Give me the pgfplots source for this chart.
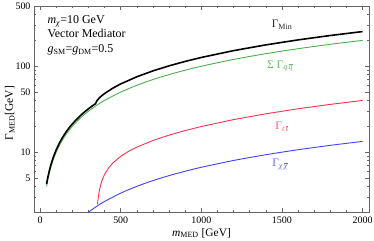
\documentclass[border=0pt]{standalone}
\usepackage{pgfplots}
\pgfplotsset{compat=1.18}
\usepackage{fontspec}
\setmainfont{Liberation Serif}
\usetikzlibrary{calc}
\definecolor{cgreen}{rgb}{0.30,0.68,0.30}
\definecolor{cred}{rgb}{1.0,0.18,0.30}
\definecolor{cblue}{rgb}{0.25,0.25,1.0}
\definecolor{lgreen}{rgb}{0.38,0.74,0.38}
\definecolor{lred}{rgb}{1.0,0.35,0.40}
\definecolor{lblue}{rgb}{0.40,0.40,1.0}
\newcommand{\ob}[1]{$\overline{\hbox{\textit{#1}}}$}
\begin{document}
\begin{tikzpicture}
\begin{axis}[
  name=ax,
  scale only axis, width=335bp, height=206bp,
  ymode=log, xmin=-38, xmax=2040, ymin=2, ymax=500,
  xtick={0,500,1000,1500,2000}, xticklabels={0,500,1000,1500,2000},
  minor xtick={100,200,300,400,600,700,800,900,1100,1200,1300,1400,1600,1700,1800,1900},
  ytick={5,10,50,100,500}, yticklabels={5,10,50,100,500},
  minor ytick={2,3,4,6,7,8,9,20,30,40,60,70,80,90,200,300,400},
  tick align=inside, major tick length=4bp, minor tick length=2bp,
  every tick/.style={gray!80!black, line width=0.5pt},
  axis line style={gray!80!black, line width=0.6pt},
  ticklabel style={font=\fontsize{10}{12}\selectfont},
  xticklabel style={yshift=-1bp},
  xlabel={\textit{m}\textsubscript{MED} [GeV]},
  ylabel={Γ\textsubscript{MED}[GeV]},
  label style={font=\fontsize{11.5}{13}\selectfont},
  xlabel style={at={(axis description cs:0.5,-0.102)}, anchor=center},
  ylabel style={at={(axis description cs:-0.072,0.48)}, anchor=center},
  clip=true,
]
% Gamma_chichi
\addplot[cblue, line width=0.9pt, smooth] coordinates {
(250,1.658)(300,1.990)(350,2.321)(400,2.653)(500,3.316)(600,3.979)(700,4.642)(800,5.305)(900,5.968)(1000,6.632)(1200,7.958)(1400,9.284)(1600,10.610)(1800,11.937)(2000,13.263)};
% Gamma_ttbar
\addplot[cred, line width=0.9pt] coordinates {
(356,2.454)(357,2.571)(358,2.683)(360,2.892)(365,3.340)(370,3.748)(380,4.421)(390,4.990)(400,5.487)(425,6.510)(450,7.416)(500,8.900)(550,10.200)(600,11.373)(700,13.585)(800,15.692)(900,17.751)(1000,19.783)(1200,23.809)(1400,27.812)(1600,31.805)(1800,35.791)(2000,39.775)};
% Sum Gamma_qqbar
\addplot[cgreen, line width=0.9pt, smooth] coordinates {
(40,3.979)(45,4.476)(50,4.974)(60,5.968)(70,6.963)(80,7.958)(90,8.952)(100,9.947)(120,11.937)(140,13.926)(160,15.916)(180,17.905)(200,19.894)(250,24.868)(300,29.842)(350,34.815)(400,39.789)(500,49.736)(600,59.683)(700,69.630)(800,79.578)(900,89.525)(1000,99.472)(1200,119.366)(1400,139.261)(1600,159.155)(1800,179.050)(2000,198.944)};
% Gamma_Min
\addplot[black, line width=1.6pt, smooth] coordinates {
(40,4.237)(45,4.770)(50,5.302)(60,6.364)(70,7.426)(80,8.488)(90,9.548)(100,10.610)(120,12.733)(140,14.854)(160,16.977)(180,19.099)(200,21.220)(250,26.526)(300,31.832)(346,36.712)};
\addplot[black, line width=1.6pt] coordinates {
(346,36.712)(347,37.602)(348,38.032)(350,38.699)(355,39.998)(360,41.089)(370,43.007)(380,44.740)(400,47.929)(450,55.162)(500,61.952)(600,75.035)(700,87.857)(800,100.575)(900,113.244)(1000,125.887)(1200,151.133)(1400,176.357)(1600,201.570)(1800,226.778)(2000,251.982)};
\node[font=\fontsize{11.5}{13}\selectfont, text=black!85] at (axis cs:1501,300) {Γ\textsubscript{Min}};
\node[font=\fontsize{11.5}{13}\selectfont, text=lgreen] at (axis cs:1489,100) {Σ Γ\textsubscript{\textit{q}\,\ob{q}}};
\node[font=\fontsize{11.5}{13}\selectfont, text=lred] at (axis cs:1501,19.5) {Γ\textsubscript{\textit{t}\,\ob{t}}};
\node[font=\fontsize{11.5}{13}\selectfont, text=lblue] at (axis cs:1489,7.07) {Γ\textsubscript{\textit{χ}\,\ob{χ}}};
\node[font=\fontsize{12}{14.5}\selectfont, align=left, anchor=north west, inner sep=0pt] at (axis description cs:0.04,0.955)
  {\textit{m}\textsubscript{\textit{χ}}=10 GeV\\Vector Mediator\\\textit{g}\textsubscript{SM}=\textit{g}\textsubscript{DM}=0.5};
\end{axis}
\pgfresetboundingbox
\path[use as bounding box] ($(ax.south west)+(-34bp,-29bp)$) rectangle ($(ax.north east)+(5bp,6bp)$);
\end{tikzpicture}
\end{document}
